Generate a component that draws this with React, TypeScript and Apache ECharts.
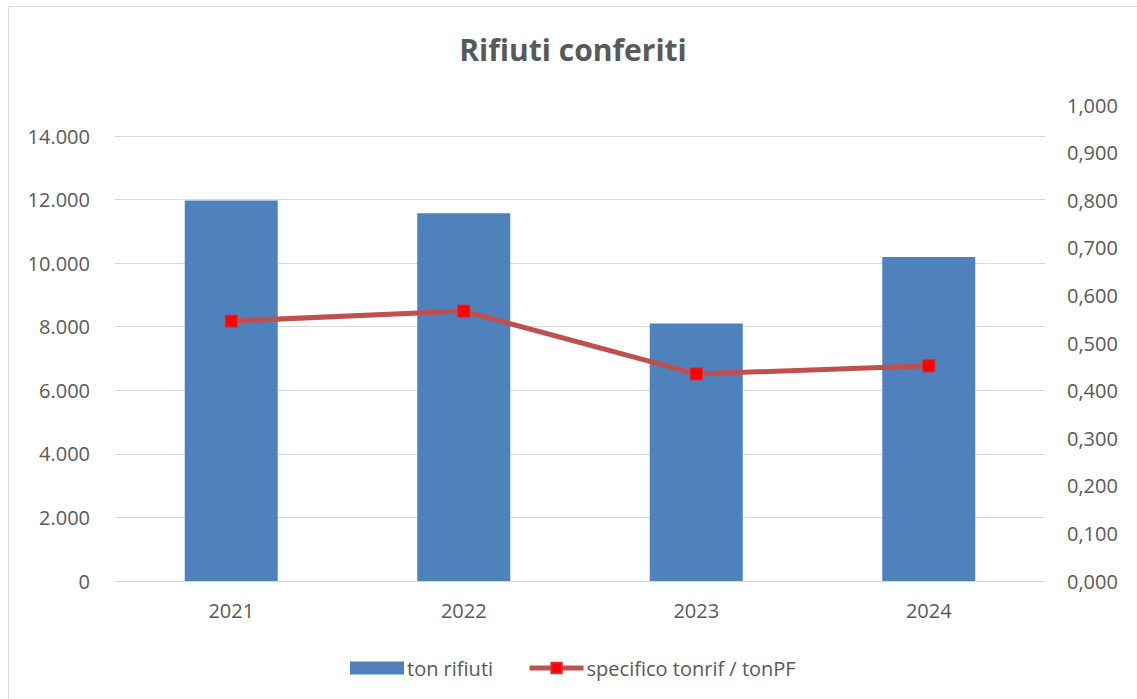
import React, { useEffect, useRef } from "react";
import * as echarts from "echarts";

const years = ["2021", "2022", "2023", "2024"];
const tonRifiuti = [11970, 11570, 8100, 10190];
const specifico = [0.546, 0.567, 0.435, 0.452];
const leftTicks = { min: 0, max: 14000, interval: 2000 };
const rightTicks = { min: 0, max: 1, interval: 0.1 };

const FONT = "Open Sans";
const TXT = "#595959";

const fmtLeft = (v: number) =>
  Math.round(v)
    .toString()
    .replace(/\B(?=(\d{3})+(?!\d))/g, ".");
const fmtRight = (v: number) => v.toFixed(3).replace(".", ",");

export default function App() {
  const ref = useRef<HTMLDivElement>(null);
  useEffect(() => {
    if (!ref.current) return;
    const chart = echarts.init(ref.current, undefined, { renderer: "svg" });
    chart.setOption({
      animation: false,
      backgroundColor: "#ffffff",
      textStyle: { fontFamily: FONT, color: TXT },
      graphic: [
        {
          type: "rect",
          shape: { x: 8.5, y: 6.5, width: 1140, height: 700 },
          style: { fill: "none", stroke: "#D9D9D9", lineWidth: 1 },
          silent: true,
        },
        {
          type: "text",
          x: 573,
          y: 49,
          style: {
            text: "Rifiuti conferiti",
            fontFamily: FONT,
            fontWeight: "bold",
            fontSize: 30,
            fill: TXT,
            textAlign: "center",
            textVerticalAlign: "middle",
          },
        },
      ],
      grid: [
        { left: 115, right: 92, top: 136, bottom: 118 },
        { left: 115, right: 92, top: 105, bottom: 118 },
      ],
      legend: {
        left: 345,
        top: 653,
        itemWidth: 54,
        itemHeight: 13,
        itemGap: 34,
        textStyle: { fontFamily: FONT, fontSize: 20, color: TXT, padding: [0, 0, 0, -2] },
        data: [
          { name: "ton rifiuti", icon: "rect" },
          {
            name: "specifico tonrif / tonPF",
            lineStyle: { width: 5, color: "#C0504D" },
          },
        ],
      },
      xAxis: [
        {
          type: "category",
          gridIndex: 0,
          data: years,
          axisLine: { lineStyle: { color: "#D9D9D9", width: 1 } },
          axisTick: { show: false },
          axisLabel: { fontFamily: FONT, fontSize: 20, color: TXT, margin: 19 },
        },
        {
          type: "category",
          gridIndex: 1,
          data: years,
          show: false,
        },
      ],
      yAxis: [
        {
          type: "value",
          gridIndex: 0,
          position: "left",
          min: leftTicks.min,
          max: leftTicks.max,
          interval: leftTicks.interval,
          axisLine: { show: false },
          axisTick: { show: false },
          splitLine: { lineStyle: { color: "#D9D9D9", width: 1 } },
          axisLabel: {
            fontFamily: FONT,
            fontSize: 20,
            color: TXT,
            margin: 25,
            formatter: fmtLeft,
          },
        },
        {
          type: "value",
          gridIndex: 1,
          position: "right",
          min: rightTicks.min,
          max: rightTicks.max,
          interval: rightTicks.interval,
          axisLine: { show: false },
          axisTick: { show: false },
          splitLine: { show: false },
          axisLabel: {
            fontFamily: FONT,
            fontSize: 20,
            color: TXT,
            margin: 22,
            formatter: fmtRight,
          },
        },
      ],
      series: [
        {
          name: "ton rifiuti",
          type: "bar",
          xAxisIndex: 0,
          yAxisIndex: 0,
          data: tonRifiuti,
          barWidth: "40%",
          itemStyle: { color: "#4F81BD" },
        },
        {
          name: "specifico tonrif / tonPF",
          type: "line",
          xAxisIndex: 1,
          yAxisIndex: 1,
          data: specifico,
          symbol: "rect",
          symbolSize: 12,
          lineStyle: { color: "#C0504D", width: 5 },
          itemStyle: { color: "#FF0000", borderColor: "#D03030", borderWidth: 1 },
          z: 5,
        },
      ],
    });
    return () => chart.dispose();
  }, []);
  return (
    <div
      ref={ref}
      style={{ position: "fixed", left: 0, top: 0, width: 1137, height: 699 }}
    />
  );
}
